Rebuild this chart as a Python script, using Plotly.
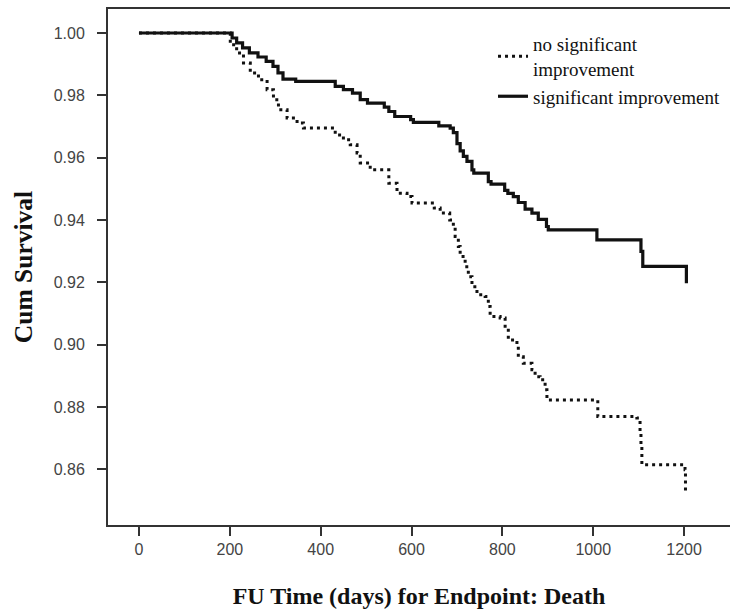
import plotly.graph_objects as go

# Kaplan-Meier step data (time in days, cumulative survival)
no_sig_time = [0, 201, 215, 230, 245, 263, 282, 296, 307, 326, 348, 362, 432, 450, 465, 480,
               487, 509, 550, 568, 590, 601, 650, 663, 684, 692, 696, 703, 707, 718, 725, 733,
               744, 762, 769, 773, 795, 806, 813, 832, 835, 846, 865, 872, 883, 894, 898, 1010,
               1096, 1103, 1105, 1107, 1202, 1203]
no_sig_surv = [1.0, 0.9962, 0.9936, 0.9904, 0.9872, 0.9850, 0.9818, 0.9786, 0.9754, 0.9727,
               0.9711, 0.9695, 0.9673, 0.9657, 0.9641, 0.9615, 0.9583, 0.9561, 0.9518, 0.9486,
               0.9475, 0.9454, 0.9438, 0.9422, 0.9400, 0.9379, 0.9347, 0.9315, 0.9283, 0.9250,
               0.9218, 0.9186, 0.9160, 0.9154, 0.9122, 0.9090, 0.9085, 0.9053, 0.9015, 0.8994,
               0.8961, 0.8940, 0.8919, 0.8897, 0.8887, 0.8855, 0.8822, 0.8769, 0.8764, 0.8716,
               0.8672, 0.8614, 0.8598, 0.8523]

sig_time = [0, 205, 215, 228, 243, 262, 280, 295, 306, 317, 345, 432, 450, 470, 487, 503, 540,
            550, 563, 598, 604, 660, 685, 692, 700, 707, 714, 722, 733, 737, 769, 775, 805, 812,
            824, 835, 850, 865, 879, 897, 901, 1008, 1105, 1109, 1205]
sig_surv = [1.0, 0.9984, 0.9968, 0.9952, 0.9936, 0.9923, 0.9909, 0.9893, 0.9872, 0.9852, 0.9845,
            0.9829, 0.9818, 0.9807, 0.9786, 0.9775, 0.9762, 0.9748, 0.9732, 0.9722, 0.9713,
            0.9702, 0.9695, 0.9680, 0.9645, 0.9622, 0.9604, 0.9588, 0.9561, 0.9550, 0.9523,
            0.9515, 0.9495, 0.9485, 0.9475, 0.9456, 0.9435, 0.9422, 0.9402, 0.9379, 0.9368,
            0.9336, 0.9299, 0.9251, 0.9197]

x_ticks = [0, 200, 400, 600, 800, 1000, 1200]
y_ticks = [1.00, 0.98, 0.96, 0.94, 0.92, 0.90, 0.88, 0.86]
y_tick_text = ["1.00", "0.98", "0.96", "0.94", "0.92", "0.90", "0.88", "0.86"]

serif = "Liberation Serif"
sans = "Liberation Sans"

fig = go.Figure()
fig.add_trace(go.Scatter(
    x=no_sig_time, y=no_sig_surv, mode="lines", line_shape="hv",
    name="no significant<br>improvement",
    line=dict(color="#111111", width=3, dash="3px,4px"),
))
fig.add_trace(go.Scatter(
    x=sig_time, y=sig_surv, mode="lines", line_shape="hv",
    name="significant improvement",
    line=dict(color="#111111", width=3.2),
))

fig.update_layout(
    width=730, height=616,
    margin=dict(l=108, r=0, t=9, b=91),
    paper_bgcolor="white", plot_bgcolor="white",
    font=dict(family=serif, color="#111111"),
    showlegend=True,
    legend=dict(
        x=0.619, y=0.969, xanchor="left", yanchor="top",
        font=dict(family=serif, size=19, color="#111111"),
        bgcolor="rgba(0,0,0,0)", borderwidth=0,
        itemwidth=30, tracegroupgap=0,
    ),
    xaxis=dict(
        range=[-68.2, 1301], tickvals=x_ticks,
        showgrid=False, zeroline=False,
        showline=True, linecolor="#333333", linewidth=2, mirror=True,
        ticks="outside", ticklen=9, tickwidth=2, tickcolor="#333333",
        tickfont=dict(family=sans, size=16, color="#444444"),
        title=dict(text="<b>FU Time (days) for Endpoint: Death</b>",
                   font=dict(family=serif, size=24, color="#111111"), standoff=30),
    ),
    yaxis=dict(
        range=[0.8421, 1.0077], tickvals=y_ticks, ticktext=y_tick_text,
        showgrid=False, zeroline=False,
        showline=True, linecolor="#333333", linewidth=2,
        ticks="outside", ticklen=9, tickwidth=2, tickcolor="#333333",
        ticklabelstandoff=9,
        tickfont=dict(family=sans, size=16, color="#444444"),
        title=dict(text="<b>Cum Survival</b>",
                   font=dict(family=serif, size=25.5, color="#111111"), standoff=14),
    ),
)

fig.write_html("out.html", config={"displayModeBar": False},
               post_script="document.body.style.margin='0';")
